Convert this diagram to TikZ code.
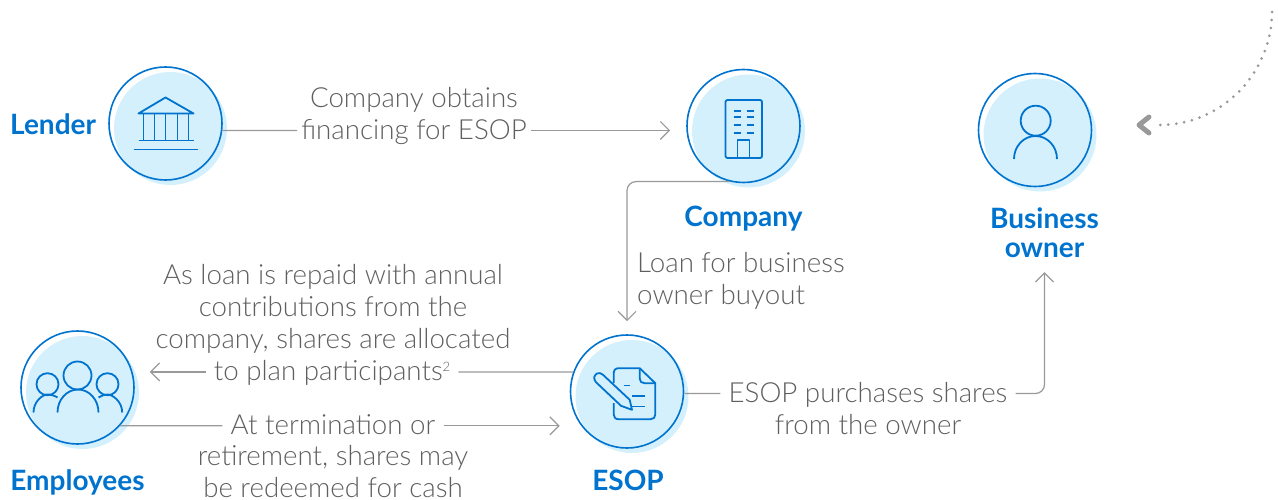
\documentclass[tikz,border=0pt]{standalone}
\usepackage{fontspec}
\setmainfont[UprightFont={* Light},BoldFont={* Bold}]{Lato}
\usepackage{tikz}
\usetikzlibrary{positioning,calc}
\usetikzlibrary{arrows.meta}
\definecolor{planblue}{HTML}{0073CF}
\definecolor{planhaze}{HTML}{D3F0FC}
\definecolor{plangray}{HTML}{999999}
\definecolor{plantext}{HTML}{5F5F5F}

\begin{document}
\begin{tikzpicture}[
  x = 1pt,
  y = -1pt,
  party/.style = {
    draw = planblue,
    circle,
    line width = 1.6pt,
    inner sep = 0pt,
    minimum size = 113pt,
    preaction = {fill = planhaze, transform canvas = {xshift = 5pt, yshift = -5pt}},
  },
  partyname/.style = {
    text = planblue,
    font = \fontsize{28}{29}\selectfont\bfseries,
    align = center,
    inner sep = 0pt,
  },
  note/.style = {
    text = plantext,
    font = \fontsize{27.7}{32}\selectfont,
    align = center,
    inner xsep = 8pt,
    inner ysep = 0pt,
  },
  noteline/.style = {
    note,
    text height = 24pt,
    text depth = 6pt,
  },
  link/.style = {
    draw = plangray,
    line width = 1.2pt,
    rounded corners = 9pt,
  },
  icon/.style = {
    draw = planblue,
    line width = 1.8pt,
    line join = round,
  },
  >={Straight Barb[length=9pt,width=18pt]},
]

  \useasboundingbox (0,0) rectangle (1278,500);

  % the five parties
  \node[party] (lender) at (165.5,123.5) {};
  \node[party] (company) at (743.5,126) {};
  \node[party] (owner) at (1035,130) {};
  \node[party] (staff) at (77.5,387.5) {};
  \node[party] (esop) at (627,391.5) {};

  \node[partyname] (lendername) [left=12pt of lender,yshift=-1pt] {Lender};
  \node[partyname] (companyname) [below=23pt of company] {Company};
  \node[partyname] (ownername) at (1044.5,233) {Business\\owner};
  \node[partyname] (staffname) [below=25pt of staff] {Employees};
  \node[partyname] (esopname) [below=21pt of esop,xshift=1pt] {ESOP};

  % the notes
  \node[noteline,inner xsep=4pt] (finance) at (414,130.48) {financing for ESOP};
  \node[noteline] (financetop) [above=2pt of finance] {Company obtains};
  \node[note,align=left] (buyout) at (741,281) {Loan for business\\owner buyout};
  \node[note] (repaid) at (333,309) {As loan is repaid with annual\\contributions from the\\company, shares are allocated};
  \node[noteline] (plan) at (332,371.9) {to plan participants\raisebox{9pt}{\fontsize{13}{13}\selectfont 2}};
  \node[noteline] (leave) at (333,425.84) {At termination or};
  \node[note] (redeem) at (333,472) {retirement, shares may\\be redeemed for cash};
  \node[noteline] (purchase) at (868,393.5) {ESOP purchases shares};
  \node[noteline] (fromowner) [below=2pt of purchase] {from the owner};

  % the links
  \draw[link] (lender.353) -- (finance);
  \draw[link,->,shorten >=16pt] (finance) -- (finance -| company.west);
  \draw[link,->,shorten >=13pt] (company.256) -| (esop.north);
  \draw[link] (esop.160) -- (plan);
  \draw[link,->,shorten >=15pt] (plan) -- (plan -| staff.east);
  \draw[link] (staff.-42) -- (leave);
  \draw[link,->,shorten >=10pt] (leave) -- (leave -| esop.west);
  \draw[link] (esop.358) -- (purchase);
  \draw[link,->,shorten >=14pt] (purchase) -| (ownername.south);

  % dotted way in from the top right
  \coordinate (dotstart) at (1272,12);
  \coordinate (dotend) at (1159,125);
  \draw[plangray,line width=3pt,line cap=round,dash pattern=on 0pt off 8pt] (dotstart) .. controls (1272,70) and (1225,125) .. (dotend);
  \draw[plangray,line width=5pt,line cap=round,line join=round] (1149,117) -- (1139,125) -- (1149,133);

  % bank
  \begin{scope}[shift={(lender.center)},icon]
    \draw (-27,-10) -- (0,-26) -- (28,-10) -- cycle;
    \foreach \px in {-22,-11,0,12,23} {
      \draw (\px,-10) -- (\px,17);
    }
    \draw (-27,17) -- (28,17);
    \draw (-32,26) -- (32,26);
  \end{scope}

  % office block
  \begin{scope}[shift={(company.center)},icon]
    \draw[rounded corners=2pt] (-18,-26) rectangle (18.5,32);
    \draw (-6,32) -- (-6,14) -- (6,14) -- (6,32);
    \foreach \py in {-15,-9,-1,7} {
      \draw (-10,\py) -- (-3,\py);
      \draw (3,\py) -- (10,\py);
    }
  \end{scope}

  % person
  \begin{scope}[shift={(owner.center)},icon]
    \draw (0.7,-9.3) circle (15);
    \draw (-21,29) arc[start angle=180,end angle=360,x radius=21.5,y radius=23];
  \end{scope}

  % group
  \begin{scope}[shift={(staff.center)},icon]
    \draw (0,-12) circle (14);
    \draw (-20,25) arc[start angle=180,end angle=360,x radius=20.5,y radius=23];
    \draw (-30,-3.3) circle (11);
    \draw (30,-3.3) circle (11);
    \draw (-44,25) .. controls (-44,14) and (-35,7) .. (-30,7) .. controls (-27,7) and (-23,8) .. (-20,10);
    \draw (44.7,25) .. controls (44.7,14) and (35,7) .. (30,7) .. controls (27,7) and (24,8) .. (21,10);
  \end{scope}

  % sheet and pen
  \begin{scope}[shift={(esop.center)},icon]
    \draw (-13.3,-8.3) -- (-13.3,-18) .. controls (-13.3,-21.5) and (-11.5,-23.3) .. (-8.3,-23.3) -- (12.7,-23.3) -- (28.3,-8.3) -- (28.3,23) .. controls (28.3,26) and (26.5,27.7) .. (23.5,27.7) -- (-8.3,27.7) .. controls (-11.5,27.7) and (-13.3,26) .. (-13.3,23) -- (-13.3,11.7);
    \draw (12.7,-23.3) -- (12.7,-13) .. controls (12.7,-10) and (14.5,-8.3) .. (17.5,-8.3) -- (28.3,-8.3);
    \draw (-24,-16.7) -- (2.7,8.3) -- (5,18.3) -- (-6,14.3) -- (-31,-9.3) .. controls (-34,-13) and (-33,-16) .. (-30,-18) .. controls (-28,-19) and (-26,-18.5) .. (-24,-16.7);
    \draw (-3.3,-6) -- (2.7,-6);
    \draw (5,4.3) -- (18.3,4.3);
    \draw (5,15) -- (18.3,15);
  \end{scope}

\end{tikzpicture}
\end{document}
